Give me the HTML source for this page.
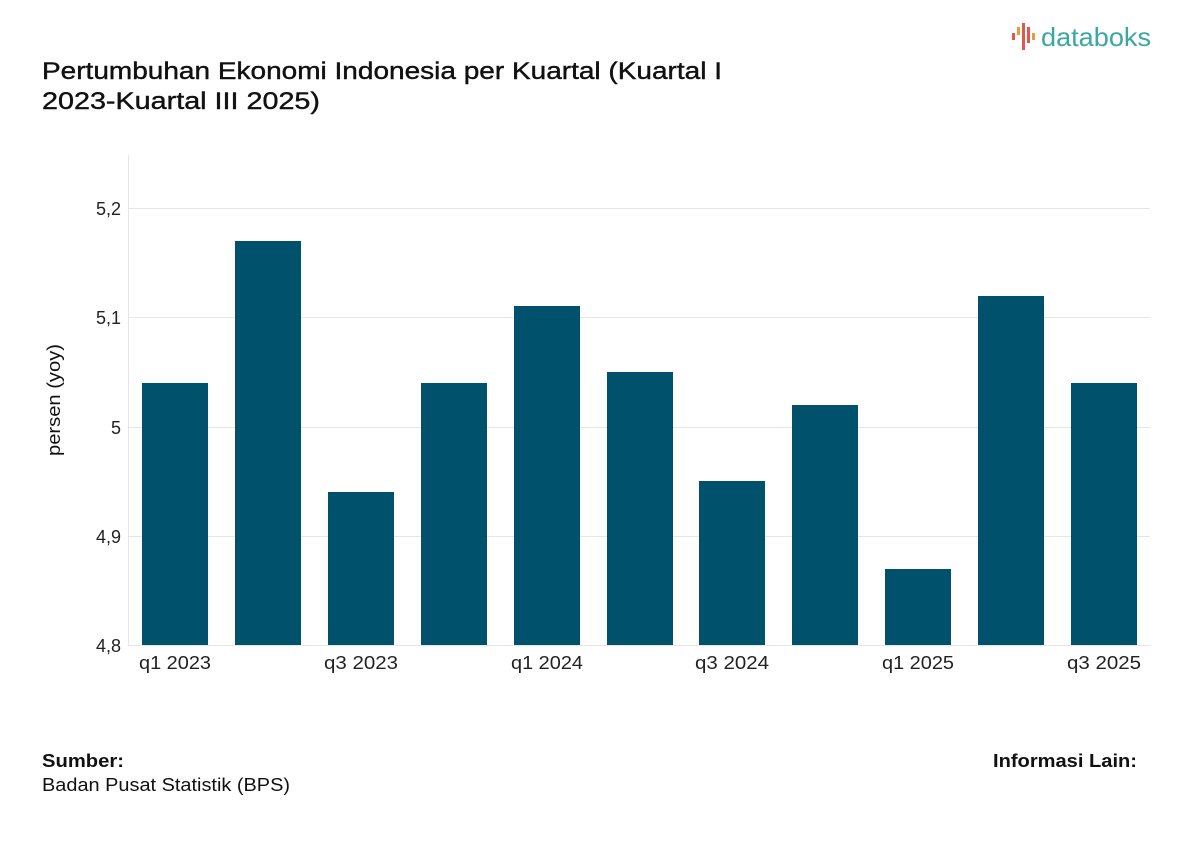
<!DOCTYPE html>
<html><head><meta charset="utf-8"><style>
body{margin:0;background:#fff;width:1200px;height:841px;overflow:hidden;font-family:"Liberation Sans",sans-serif;}
</style></head><body>
<svg width="1200" height="841" xmlns="http://www.w3.org/2000/svg" font-family="Liberation Sans, sans-serif">
<text x="42" y="79" font-size="24" fill="#111" stroke="#111" stroke-width="0.4" textLength="680" lengthAdjust="spacingAndGlyphs">Pertumbuhan Ekonomi Indonesia per Kuartal (Kuartal I</text>
<text x="42" y="109" font-size="24" fill="#111" stroke="#111" stroke-width="0.4" textLength="278" lengthAdjust="spacingAndGlyphs">2023-Kuartal III 2025)</text>
<g>
<rect x="1012" y="33" width="3" height="7" fill="#e0584a"/>
<rect x="1017" y="27" width="3" height="8" fill="#e89a3c"/>
<rect x="1022" y="23" width="3" height="27" fill="#e0584a"/>
<rect x="1027" y="27" width="3" height="16" fill="#e0584a"/>
<rect x="1032" y="33" width="3" height="7" fill="#e89a3c"/>
<text x="1041" y="46" font-size="26" fill="#3aa7a3" textLength="110" lengthAdjust="spacingAndGlyphs">databoks</text>
</g>
<g stroke="#e6e6e6" stroke-width="1">
<line x1="128" y1="208.5" x2="1150" y2="208.5"/>
<line x1="128" y1="317.5" x2="1150" y2="317.5"/>
<line x1="128" y1="427.5" x2="1150" y2="427.5"/>
<line x1="128" y1="536.5" x2="1150" y2="536.5"/>
<line x1="128" y1="645.5" x2="1150" y2="645.5"/>
<line x1="128.5" y1="155" x2="128.5" y2="645"/>
</g>
<g font-size="18" fill="#222" text-anchor="end">
<text x="121" y="215">5,2</text>
<text x="121" y="324">5,1</text>
<text x="121" y="434">5</text>
<text x="121" y="543">4,9</text>
<text x="121" y="652">4,8</text>
</g>
<text transform="translate(60,400) rotate(-90)" font-size="18" fill="#111" text-anchor="middle" textLength="112" lengthAdjust="spacingAndGlyphs">persen (yoy)</text>
<g fill="#00526c">
<rect x="142" y="383" width="66" height="262"/>
<rect x="235" y="241" width="66" height="404"/>
<rect x="328" y="492" width="66" height="153"/>
<rect x="421" y="383" width="66" height="262"/>
<rect x="514" y="306" width="66" height="339"/>
<rect x="607" y="372" width="66" height="273"/>
<rect x="699" y="481" width="66" height="164"/>
<rect x="792" y="405" width="66" height="240"/>
<rect x="885" y="569" width="66" height="76"/>
<rect x="978" y="296" width="66" height="349"/>
<rect x="1071" y="383" width="66" height="262"/>
</g>
<g font-size="18" fill="#222" text-anchor="middle">
<text x="175" y="669" textLength="72" lengthAdjust="spacingAndGlyphs">q1 2023</text>
<text x="361" y="669" textLength="74" lengthAdjust="spacingAndGlyphs">q3 2023</text>
<text x="547" y="669" textLength="72" lengthAdjust="spacingAndGlyphs">q1 2024</text>
<text x="732" y="669" textLength="74" lengthAdjust="spacingAndGlyphs">q3 2024</text>
<text x="918" y="669" textLength="72" lengthAdjust="spacingAndGlyphs">q1 2025</text>
<text x="1104" y="669" textLength="74" lengthAdjust="spacingAndGlyphs">q3 2025</text>
</g>
<text x="42" y="767" font-size="18" font-weight="bold" fill="#111" textLength="82" lengthAdjust="spacingAndGlyphs">Sumber:</text>
<text x="42" y="791" font-size="18" fill="#111" textLength="248" lengthAdjust="spacingAndGlyphs">Badan Pusat Statistik (BPS)</text>
<text x="993" y="767" font-size="18" font-weight="bold" fill="#111" textLength="144" lengthAdjust="spacingAndGlyphs">Informasi Lain:</text>
</svg>
</body></html>
